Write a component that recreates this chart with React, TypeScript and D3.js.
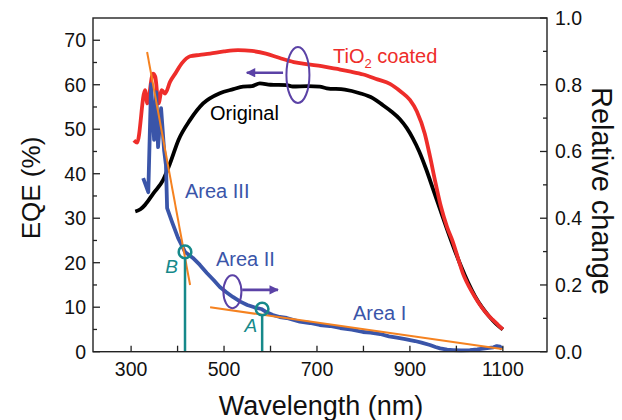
import React from "react";
import * as d3 from "d3";

// ---- data ----
const redNm = [306, 313, 330, 335, 347, 352, 359, 366, 373, 384, 395, 409, 427, 448, 470, 500, 530, 560, 590, 620, 650, 680, 710, 740, 770, 800, 830, 857, 880, 900, 915, 932, 943, 955, 967, 980, 992, 1005, 1014, 1023, 1040, 1051, 1065, 1078, 1090, 1100];
const redEqe = [47.5, 47, 58.8, 55.8, 62.5, 61.8, 55.8, 58.8, 58, 60.7, 62.5, 64.8, 66.4, 66.7, 67, 67.5, 67.8, 67.6, 67, 66, 65.1, 64.6, 64.2, 63.6, 63, 62.3, 61.2, 60.2, 58.5, 56.6, 54, 49, 44, 38, 32.5, 28, 24.8, 20.5, 17.6, 15.5, 12.3, 10.5, 8.6, 7.2, 6, 5];

const blackNm = [309, 320, 330, 348, 369, 384, 402, 427, 455, 491, 520, 541, 560, 577, 600, 635, 648, 680, 706, 721, 760, 792, 820, 842, 860, 878, 893, 906, 920, 935, 950, 965, 980, 995, 1010, 1025, 1040, 1055, 1070, 1085, 1100];
const blackEqe = [31.5, 32, 33, 35.6, 38.6, 42.4, 47.6, 52.1, 55.8, 58.1, 59, 59.6, 59.7, 60.3, 60, 59.9, 59.6, 59.7, 59.6, 59.2, 58.9, 58.1, 57, 55.4, 54, 52.3, 50.3, 48, 45, 41, 36.5, 32, 27.5, 23.2, 19.2, 15.6, 12.5, 10, 8, 6.3, 5];

const blueNm = [326, 337, 343, 349.5, 354, 358, 364.5, 371, 375, 377.5, 388, 401, 416, 433, 448, 463, 478, 491, 505, 519, 535, 550, 565, 580, 592, 605, 620, 635, 650, 663, 685, 706, 728, 750, 775, 799, 815, 836, 855, 872, 890, 911, 925, 943, 955, 965, 980, 993, 1010, 1029, 1045, 1066, 1080, 1087, 1094, 1098];
const blueRel = [0.52, 0.478, 0.802, 0.635, 0.778, 0.613, 0.73, 0.604, 0.559, 0.43, 0.389, 0.341, 0.299, 0.281, 0.26, 0.236, 0.214, 0.194, 0.178, 0.164, 0.15, 0.14, 0.133, 0.128, 0.118, 0.11, 0.104, 0.101, 0.095, 0.09, 0.086, 0.08, 0.077, 0.071, 0.066, 0.059, 0.057, 0.053, 0.046, 0.042, 0.038, 0.032, 0.027, 0.02, 0.014, 0.01, 0.006, 0.005, 0.004, 0.005, 0.007, 0.011, 0.013, 0.017, 0.015, 0.008];

const fit3Nm = [334.4, 426.9];
const fit3Rel = [0.898, 0.2];
const fit1Nm = [470, 1098];
const fit1Rel = [0.133, 0.008];

const pointB = { nm: 416, rel: 0.299, label: "B" };
const pointA = { nm: 582, rel: 0.128, label: "A" };

const xTickVals = [300, 400, 500, 600, 700, 800, 900, 1000, 1100];
const xTickLabels = [300, 500, 700, 900, 1100];
const yLeftTicks = [0, 10, 20, 30, 40, 50, 60, 70];
const yLeftMinor = [5, 15, 25, 35, 45, 55, 65];
const yRightTicks = [0, 0.2, 0.4, 0.6, 0.8, 1.0];
const yRightMinor = [0.1, 0.3, 0.5, 0.7, 0.9];

const RED = "#ee2d2a";
const BLACK = "#000000";
const BLUE = "#3a55a9";
const ORANGE = "#f58220";
const TEAL = "#16898a";
const PURPLE = "#5b42a6";
const FONT = "'Liberation Sans', Arial, sans-serif";

export default function App() {
  const W = 622, H = 420;
  const x = d3.scaleLinear().domain([218, 1195]).range([93, 547]);
  const yL = d3.scaleLinear().domain([0, 75]).range([351.7, 18]);
  const yR = d3.scaleLinear().domain([0, 1]).range([351.7, 18]);

  const lineL = d3.line<[number, number]>().x(d => x(d[0])).y(d => yL(d[1])).curve(d3.curveMonotoneX);
  const lineR = d3.line<[number, number]>().x(d => x(d[0])).y(d => yR(d[1]));

  const red = lineL(redNm.map((n, i) => [n, redEqe[i]]));
  const black = lineL(blackNm.map((n, i) => [n, blackEqe[i]]));
  const blue = lineR(blueNm.map((n, i) => [n, blueRel[i]]));
  const fit3 = lineR(fit3Nm.map((n, i) => [n, fit3Rel[i]]));
  const fit1 = lineR(fit1Nm.map((n, i) => [n, fit1Rel[i]]));

  const x0 = x.range()[0], x1 = x.range()[1];
  const y0 = yL.range()[0], y1 = yL.range()[1];
  const axisColor = "#222";
  const tickFont = 19.5;
  const annFont = 20;

  return (
    <svg width={W} height={H} style={{ position: "absolute", left: 0, top: 0 }} fontFamily={FONT}>
      <defs>
        <marker id="arr" viewBox="0 0 10 10" refX="9" refY="5" markerWidth="4.3" markerHeight="3.6" orient="auto" markerUnits="strokeWidth">
          <path d="M0,0 L10,5 L0,10 z" fill={PURPLE} />
        </marker>
      </defs>
      <rect x={0} y={0} width={W} height={H} fill="#fff" />

      {/* curves */}
      <path d={black!} fill="none" stroke={BLACK} strokeWidth={3.8} strokeLinejoin="round" />
      <path d={red!} fill="none" stroke={RED} strokeWidth={3.8} strokeLinejoin="round" />
      <path d={blue!} fill="none" stroke={BLUE} strokeWidth={3.8} strokeLinejoin="round" />
      <path d={fit3!} fill="none" stroke={ORANGE} strokeWidth={2} />
      <path d={fit1!} fill="none" stroke={ORANGE} strokeWidth={2} />

      {/* teal markers */}
      {[pointB, pointA].map(p => (
        <g key={p.label}>
          <line x1={x(p.nm)} x2={x(p.nm)} y1={yR(p.rel) + 6.5} y2={y0} stroke={TEAL} strokeWidth={2.5} />
          <circle cx={x(p.nm)} cy={yR(p.rel)} r={6.3} fill="none" stroke={TEAL} strokeWidth={2.5} />
        </g>
      ))}
      <text x={x(pointB.nm) - 7} y={yR(pointB.rel) + 21} fill={TEAL} fontSize={19} fontStyle="italic" textAnchor="end">B</text>
      <text x={x(pointA.nm) - 5} y={yR(pointA.rel) + 23} fill={TEAL} fontSize={19} fontStyle="italic" textAnchor="end">A</text>

      {/* purple annotations */}
      <line x1={x(627)} x2={x(549)} y1={yL(62.7)} y2={yL(62.7)} stroke={PURPLE} strokeWidth={2.6} markerEnd="url(#arr)" />
      <ellipse cx={x(659)} cy={yL(62.2)} rx={11.5} ry={28} fill="none" stroke={PURPLE} strokeWidth={2} />
      <line x1={x(539)} x2={x(616)} y1={yL(13.9)} y2={yL(13.9)} stroke={PURPLE} strokeWidth={2.6} markerEnd="url(#arr)" />
      <ellipse cx={x(518)} cy={yL(13.5)} rx={9} ry={16.5} fill="none" stroke={PURPLE} strokeWidth={2} />

      {/* labels */}
      <text x={333} y={63} fill={RED} fontSize={annFont}>TiO<tspan fontSize={13} dy={5}>2</tspan><tspan dy={-5}> coated</tspan></text>
      <text x={210} y={120} fill={BLACK} fontSize={annFont}>Original</text>
      <text x={185} y={198} fill={BLUE} fontSize={annFont}>Area III</text>
      <text x={216} y={266} fill={BLUE} fontSize={annFont}>Area II</text>
      <text x={353} y={320} fill={BLUE} fontSize={annFont}>Area I</text>

      {/* frame */}
      <rect x={x0} y={y1} width={x1 - x0} height={y0 - y1} fill="none" stroke={axisColor} strokeWidth={1.4} />

      {/* bottom ticks */}
      {xTickVals.map(v => (
        <line key={"xt" + v} x1={x(v)} x2={x(v)} y1={y0} y2={y0 - 6} stroke={axisColor} strokeWidth={1.3} />
      ))}
      {xTickLabels.map(v => (
        <text key={"xl" + v} x={x(v)} y={y0 + 24} fontSize={tickFont} textAnchor="middle" fill="#111">{v}</text>
      ))}
      {/* left ticks */}
      {yLeftTicks.map(v => (
        <g key={"yl" + v}>
          <line x1={x0} x2={x0 + 7} y1={yL(v)} y2={yL(v)} stroke={axisColor} strokeWidth={1.3} />
          <text x={x0 - 7} y={yL(v) + 7} fontSize={tickFont} textAnchor="end" fill="#111">{v}</text>
        </g>
      ))}
      {yLeftMinor.map(v => (
        <line key={"ylm" + v} x1={x0} x2={x0 + 4} y1={yL(v)} y2={yL(v)} stroke={axisColor} strokeWidth={1.3} />
      ))}
      {/* right ticks */}
      {yRightTicks.map(v => (
        <g key={"yr" + v}>
          <line x1={x1} x2={x1 - 7} y1={yR(v)} y2={yR(v)} stroke={axisColor} strokeWidth={1.3} />
          <text x={x1 + 8} y={yR(v) + 7} fontSize={tickFont} textAnchor="start" fill="#111">{v.toFixed(1)}</text>
        </g>
      ))}
      {yRightMinor.map(v => (
        <line key={"yrm" + v} x1={x1} x2={x1 - 4} y1={yR(v)} y2={yR(v)} stroke={axisColor} strokeWidth={1.3} />
      ))}

      {/* axis titles */}
      <text x={321} y={415} fontSize={27} textAnchor="middle" fill="#111">Wavelength (nm)</text>
      <text transform={`translate(40,188) rotate(-90)`} fontSize={26} textAnchor="middle" fill="#111">EQE (%)</text>
      <text transform={`translate(592,191) rotate(90)`} fontSize={29} textAnchor="middle" fill="#111">Relative change</text>
    </svg>
  );
}
